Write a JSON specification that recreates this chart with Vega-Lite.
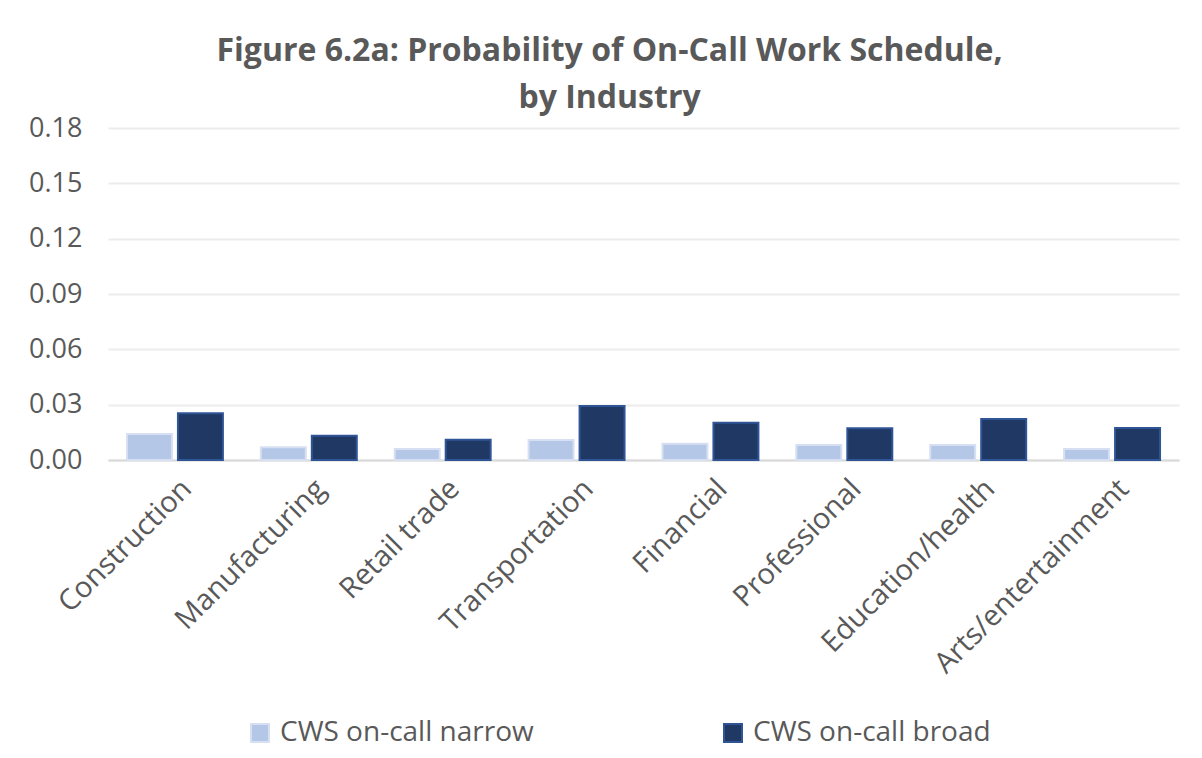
{
  "$schema": "https://vega.github.io/schema/vega-lite/v6.json",
  "width": 1071,
  "height": 332,
  "autosize": {"type": "none"},
  "padding": {"left": 108, "top": 128, "right": 23, "bottom": 298},
  "background": "white",
  "title": {
    "text": ["Figure 6.2a: Probability of On-Call Work Schedule,", "by Industry"],
    "font": "Open Sans",
    "fontSize": 32,
    "fontWeight": "bold",
    "color": "#595959",
    "anchor": "middle",
    "dx": -34,
    "offset": -1,
    "lineHeight": 47
  },
  "data": {
    "values": [
      {"industry": "Construction", "series": "CWS on-call narrow", "value": 0.0141},
      {"industry": "Construction", "series": "CWS on-call broad", "value": 0.0253},
      {"industry": "Manufacturing", "series": "CWS on-call narrow", "value": 0.0069},
      {"industry": "Manufacturing", "series": "CWS on-call broad", "value": 0.0132},
      {"industry": "Retail trade", "series": "CWS on-call narrow", "value": 0.006},
      {"industry": "Retail trade", "series": "CWS on-call broad", "value": 0.011},
      {"industry": "Transportation", "series": "CWS on-call narrow", "value": 0.0108},
      {"industry": "Transportation", "series": "CWS on-call broad", "value": 0.0293},
      {"industry": "Financial", "series": "CWS on-call narrow", "value": 0.0088},
      {"industry": "Financial", "series": "CWS on-call broad", "value": 0.0202},
      {"industry": "Professional", "series": "CWS on-call narrow", "value": 0.0081},
      {"industry": "Professional", "series": "CWS on-call broad", "value": 0.0172},
      {"industry": "Education/health", "series": "CWS on-call narrow", "value": 0.0081},
      {"industry": "Education/health", "series": "CWS on-call broad", "value": 0.0222},
      {"industry": "Arts/entertainment", "series": "CWS on-call narrow", "value": 0.006},
      {"industry": "Arts/entertainment", "series": "CWS on-call broad", "value": 0.0174}
    ]
  },
  "mark": {"type": "bar", "strokeWidth": 2},
  "encoding": {
    "x": {
      "field": "industry",
      "type": "nominal",
      "sort": null,
      "scale": {"paddingInner": 0, "paddingOuter": 0},
      "axis": {
        "title": null,
        "labelAngle": -45,
        "labelFont": "Open Sans",
        "labelFontSize": 29,
        "labelColor": "#595959",
        "labelLimit": 0,
        "ticks": false,
        "domainColor": "#d9d9d9",
        "domainWidth": 2,
        "labelPadding": 14,
        "labelOffset": 2
      }
    },
    "xOffset": {
      "field": "series",
      "type": "nominal",
      "sort": ["CWS on-call narrow", "CWS on-call broad"],
      "scale": {"paddingInner": 0.118, "paddingOuter": 0.372}
    },
    "y": {
      "field": "value",
      "type": "quantitative",
      "scale": {"domain": [0, 0.18]},
      "axis": {
        "title": null,
        "values": [0, 0.03, 0.06, 0.09, 0.12, 0.15, 0.18],
        "format": ".2f",
        "labelFont": "Open Sans",
        "labelFontSize": 27,
        "labelColor": "#595959",
        "ticks": false,
        "domain": false,
        "gridColor": "#ececec",
        "gridWidth": 2,
        "labelPadding": 26
      }
    },
    "color": {
      "field": "series",
      "type": "nominal",
      "sort": ["CWS on-call narrow", "CWS on-call broad"],
      "scale": {"domain": ["CWS on-call narrow", "CWS on-call broad"], "range": ["#b4c7e7", "#203864"]},
      "legend": {
        "title": null,
        "orient": "none",
        "legendX": 138,
        "legendY": 591,
        "direction": "horizontal",
        "symbolType": "square",
        "symbolSize": 324,
        "symbolStrokeWidth": 2,
        "labelFont": "Open Sans",
        "labelFontSize": 28,
        "labelColor": "#595959",
        "labelLimit": 0,
        "labelOffset": 6,
        "columnPadding": 185
      }
    },
    "stroke": {
      "field": "series",
      "type": "nominal",
      "sort": ["CWS on-call narrow", "CWS on-call broad"],
      "scale": {"domain": ["CWS on-call narrow", "CWS on-call broad"], "range": ["#d6e0f2", "#2f5597"]},
      "legend": {
        "title": null,
        "orient": "none",
        "legendX": 138,
        "legendY": 591,
        "direction": "horizontal",
        "symbolType": "square",
        "symbolSize": 324,
        "symbolStrokeWidth": 2,
        "labelFont": "Open Sans",
        "labelFontSize": 28,
        "labelColor": "#595959",
        "labelLimit": 0,
        "labelOffset": 6,
        "columnPadding": 185
      }
    }
  },
  "config": {
    "view": {"stroke": null}
  }
}
